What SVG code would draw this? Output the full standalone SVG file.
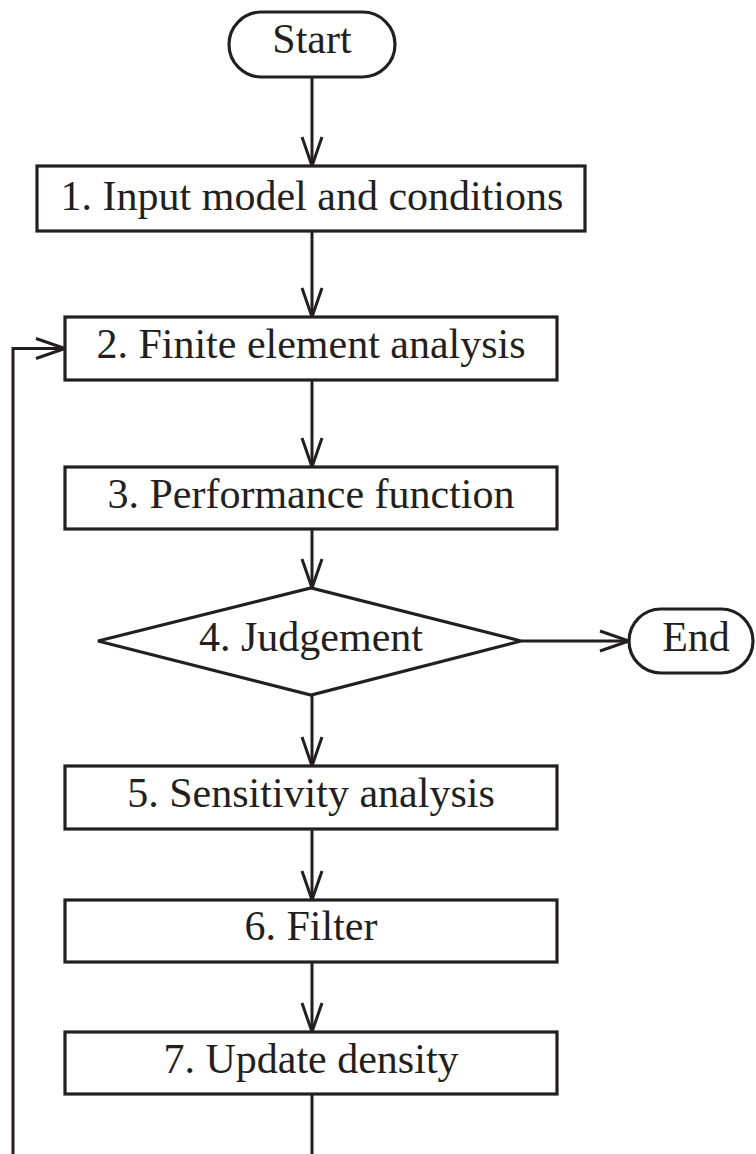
<svg xmlns="http://www.w3.org/2000/svg" width="756" height="1154" viewBox="0 0 756 1154">
<style>
.shape{fill:#fff;stroke:#231f20;stroke-width:3.2}
.lbl{font-family:"Liberation Serif","Times New Roman",serif;font-size:42px;fill:#231f20;text-anchor:middle}
.conn{fill:none;stroke:#231f20;stroke-width:3}
</style>
<defs>
<marker id="arr" markerUnits="userSpaceOnUse" markerWidth="40" markerHeight="30" viewBox="-34 -15 40 30" refX="0" refY="0" orient="auto" overflow="visible">
<path d="M-29,-10 L0,0 L-29,10" fill="none" stroke="#231f20" stroke-width="3"/>
</marker>
</defs>
<rect width="756" height="1154" fill="#fff"/>
<g id="connectors">
<line class="conn" x1="312" y1="77" x2="312" y2="166" marker-end="url(#arr)"/>
<line class="conn" x1="312" y1="231" x2="312" y2="317" marker-end="url(#arr)"/>
<line class="conn" x1="312" y1="380" x2="312" y2="467" marker-end="url(#arr)"/>
<line class="conn" x1="312" y1="529" x2="312" y2="588" marker-end="url(#arr)"/>
<line class="conn" x1="521" y1="641" x2="629" y2="641" marker-end="url(#arr)"/>
<line class="conn" x1="312" y1="695" x2="312" y2="766" marker-end="url(#arr)"/>
<line class="conn" x1="312" y1="829" x2="312" y2="900" marker-end="url(#arr)"/>
<line class="conn" x1="312" y1="962" x2="312" y2="1032" marker-end="url(#arr)"/>
<line class="conn" x1="312" y1="1094" x2="312" y2="1156"/>
<polyline class="conn" points="13,1156 13,348.5 65,348.5" marker-end="url(#arr)"/>
</g>
<g id="start">
<rect class="shape" x="229" y="12" width="166" height="65" rx="32.5"/>
<text class="lbl" x="312" y="53">Start</text>
</g>
<g id="n1">
<rect class="shape" x="37" y="166" width="548" height="65"/>
<text class="lbl" x="312" y="210">1. Input model and conditions</text>
</g>
<g id="n2">
<rect class="shape" x="65" y="317" width="492" height="63"/>
<text class="lbl" x="311" y="358">2. Finite element analysis</text>
</g>
<g id="n3">
<rect class="shape" x="65" y="467" width="492" height="62"/>
<text class="lbl" x="311" y="508">3. Performance function</text>
</g>
<g id="n4">
<polygon class="shape" points="98,641 311,588 521,641 311,695"/>
<text class="lbl" x="311" y="651">4. Judgement</text>
</g>
<g id="end">
<rect class="shape" x="629" y="609" width="124" height="64" rx="32"/>
<text class="lbl" x="696" y="651">End</text>
</g>
<g id="n5">
<rect class="shape" x="65" y="766" width="492" height="63"/>
<text class="lbl" x="311" y="807">5. Sensitivity analysis</text>
</g>
<g id="n6">
<rect class="shape" x="65" y="900" width="492" height="62"/>
<text class="lbl" x="311" y="940">6. Filter</text>
</g>
<g id="n7">
<rect class="shape" x="65" y="1032" width="492" height="62"/>
<text class="lbl" x="311" y="1073">7. Update density</text>
</g>
</svg>
